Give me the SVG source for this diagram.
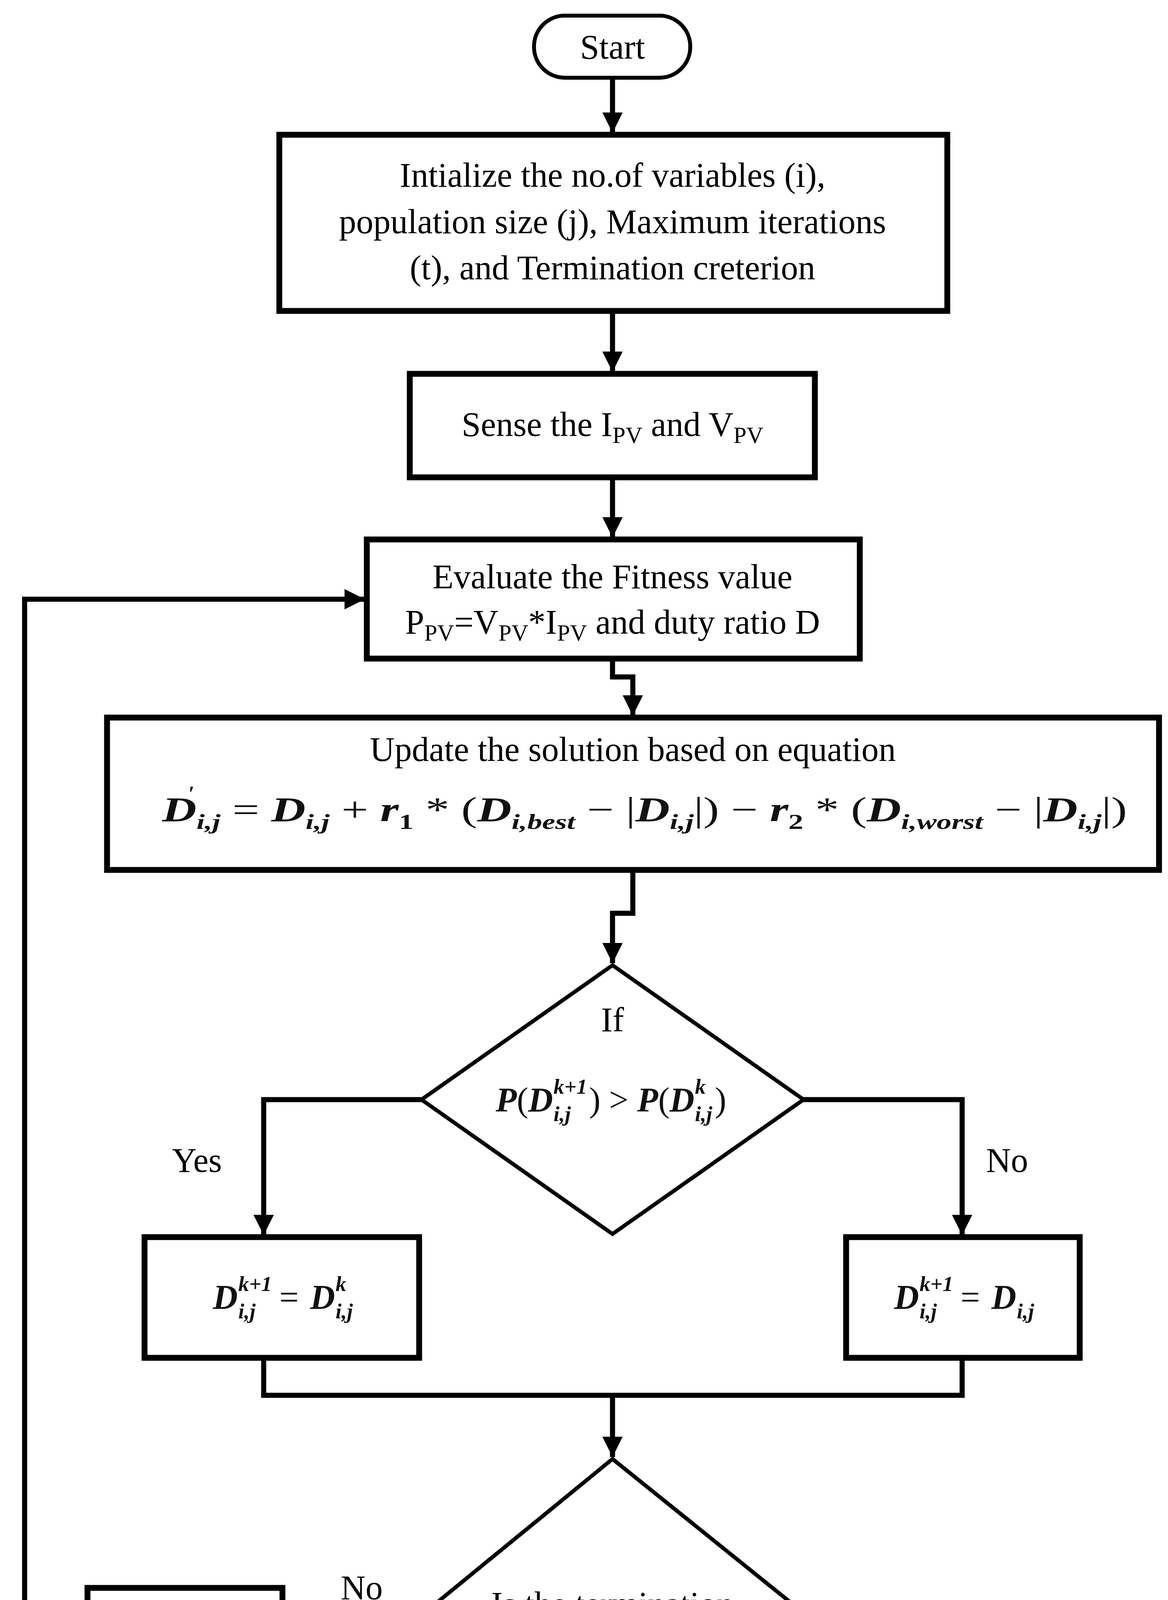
<svg xmlns="http://www.w3.org/2000/svg" width="2990" height="5141" viewBox="0 0 2990 5141">
<defs>
<style>
.b{fill:#fff;stroke:#000;stroke-width:15}
.d{fill:#fff;stroke:#000;stroke-width:10}
.t{font-family:"Liberation Serif",serif;font-size:88px;fill:#000;text-anchor:middle}
.m{font-family:"Liberation Serif",serif;font-size:88px;font-weight:bold;font-style:italic;fill:#111}
.s{font-family:"Liberation Serif",serif;font-size:55px;font-weight:bold;font-style:italic;fill:#111}
.r{font-family:"Liberation Serif",serif;font-size:88px;fill:#111}
.c{fill:none;stroke:#000;stroke-width:13}
</style>
<marker id="a" viewBox="0 0 10 10" refX="10" refY="5" markerWidth="4" markerHeight="4" markerUnits="strokeWidth" orient="auto"><path d="M0,0L10,5L0,10z" fill="#000"/></marker>
</defs>
<rect width="2990" height="5141" fill="#fff"/>
<g id="connectors">
<path class="c" d="M1568,199V340" marker-end="url(#a)"/>
<path class="c" d="M1568,796V952" marker-end="url(#a)"/>
<path class="c" d="M1568,1222V1376" marker-end="url(#a)"/>
<path class="c" d="M1568,1686V1733H1620V1832" marker-end="url(#a)"/>
<path class="c" d="M1620,2227V2338H1568V2466" marker-end="url(#a)"/>
<path class="c" d="M1079,2815H675V3162" marker-end="url(#a)"/>
<path class="c" d="M2057,2815H2463V3162" marker-end="url(#a)"/>
<path class="c" d="M675,3476V3572H2463V3476"/>
<path class="c" d="M1568,3572V3730" marker-end="url(#a)"/>
<path class="c" d="M1041,4166H728" marker-end="url(#a)"/>
<path class="c" d="M224,4166H63V1534H934" marker-end="url(#a)"/>
<path class="c" d="M1568,4594V4817" marker-end="url(#a)"/>
<text class="t" x="504" y="3000">Yes</text>
<text class="t" x="2578" y="3000">No</text>
<text class="t" x="926" y="4094">No</text>
<text class="t" x="1760" y="4737">Yes</text>
</g>
<g id="start"><rect class="d" x="1367" y="40" width="400" height="159" rx="79"/><text class="t" x="1568" y="150">Start</text></g>
<g id="init"><rect class="b" x="715" y="345" width="1710" height="451"/>
<text class="t" x="1568" y="478">Intialize the no.of variables (i),</text>
<text class="t" x="1568" y="597">population size (j), Maximum iterations</text>
<text class="t" x="1568" y="715">(t), and Termination creterion</text></g>
<g id="sense"><rect class="b" x="1049" y="957" width="1037" height="265"/>
<text class="t" x="1568" y="1116">Sense the I<tspan font-size="60" dy="18">PV</tspan><tspan dy="-18"> and V</tspan><tspan font-size="60" dy="18">PV</tspan></text></g>
<g id="evaluate"><rect class="b" x="939" y="1381" width="1262" height="305"/>
<text class="t" x="1568" y="1506">Evaluate the Fitness value</text>
<text class="t" x="1568" y="1622">P<tspan font-size="60" dy="18">PV</tspan><tspan dy="-18">=V</tspan><tspan font-size="60" dy="18">PV</tspan><tspan dy="-18">*I</tspan><tspan font-size="60" dy="18">PV</tspan><tspan dy="-18"> and duty ratio D</tspan></text></g>
<g id="update"><rect class="b" x="274" y="1837" width="2693" height="390"/>
<text class="t" x="1620" y="1948">Update the solution based on equation</text>
<text class="s" x="482" y="2050">′</text>
<text class="m" x="415" y="2102" textLength="2470" lengthAdjust="spacingAndGlyphs">D<tspan font-size="55" dy="20">i,j</tspan><tspan dy="-20" font-style="normal" font-weight="normal"> = </tspan>D<tspan font-size="55" dy="20">i,j</tspan><tspan dy="-20" font-style="normal" font-weight="normal"> + </tspan>r<tspan font-size="55" dy="20" font-style="normal">1</tspan><tspan dy="-20" font-style="normal" font-weight="normal"> * (</tspan>D<tspan font-size="55" dy="20">i,best</tspan><tspan dy="-20" font-style="normal" font-weight="normal"> − |</tspan>D<tspan font-size="55" dy="20">i,j</tspan><tspan dy="-20" font-style="normal" font-weight="normal">|) − </tspan>r<tspan font-size="55" dy="20" font-style="normal">2</tspan><tspan dy="-20" font-style="normal" font-weight="normal"> * (</tspan>D<tspan font-size="55" dy="20">i,worst</tspan><tspan dy="-20" font-style="normal" font-weight="normal"> − |</tspan>D<tspan font-size="55" dy="20">i,j</tspan><tspan dy="-20" font-style="normal" font-weight="normal">|)</tspan></text></g>
<g id="if"><path class="d" d="M1568,2471L2057,2815L1568,3159L1079,2815z"/>
<text class="t" x="1568" y="2640">If</text>
<text class="m" x="1269" y="2845">P</text><text class="r" x="1323" y="2845">(</text><text class="m" x="1352" y="2845">D</text>
<text class="s" x="1417" y="2800">k+1</text><text class="s" x="1417" y="2870">i,j</text>
<text class="r" x="1508" y="2845">) &gt;</text><text class="m" x="1631" y="2845">P</text><text class="r" x="1685" y="2845">(</text><text class="m" x="1714" y="2845">D</text>
<text class="s" x="1779" y="2800">k</text><text class="s" x="1779" y="2870">i,j</text>
<text class="r" x="1830" y="2845">)</text></g>
<g id="yesbox"><rect class="b" x="370" y="3167" width="703" height="309"/>
<text class="m" x="545" y="3350">D</text><text class="s" x="610" y="3305">k+1</text><text class="s" x="610" y="3375">i,j</text>
<text class="r" x="715" y="3350">=</text>
<text class="m" x="794" y="3350">D</text><text class="s" x="859" y="3305">k</text><text class="s" x="859" y="3375">i,j</text></g>
<g id="nobox"><rect class="b" x="2166" y="3167" width="598" height="309"/>
<text class="m" x="2289" y="3350">D</text><text class="s" x="2354" y="3305">k+1</text><text class="s" x="2354" y="3375">i,j</text>
<text class="r" x="2459" y="3350">=</text>
<text class="m" x="2538" y="3350">D</text><text class="s" x="2603" y="3375">i,j</text></g>
<g id="term"><path class="d" d="M1568,3735L2103,4166L1568,4594L1041,4166z"/>
<text class="t" x="1568" y="4136">Is the termination</text>
<text class="t" x="1568" y="4258">criterion satisfied</text></g>
<g id="iter"><rect class="b" x="224" y="4065" width="499" height="200"/>
<text class="t" x="473" y="4196">Iter t=t+1</text></g>
<g id="record"><rect class="b" x="1118" y="4822" width="904" height="277"/>
<text class="t" x="1570" y="4934">Record the Optimal</text>
<text class="t" x="1570" y="5056">solution</text></g>
</svg>
